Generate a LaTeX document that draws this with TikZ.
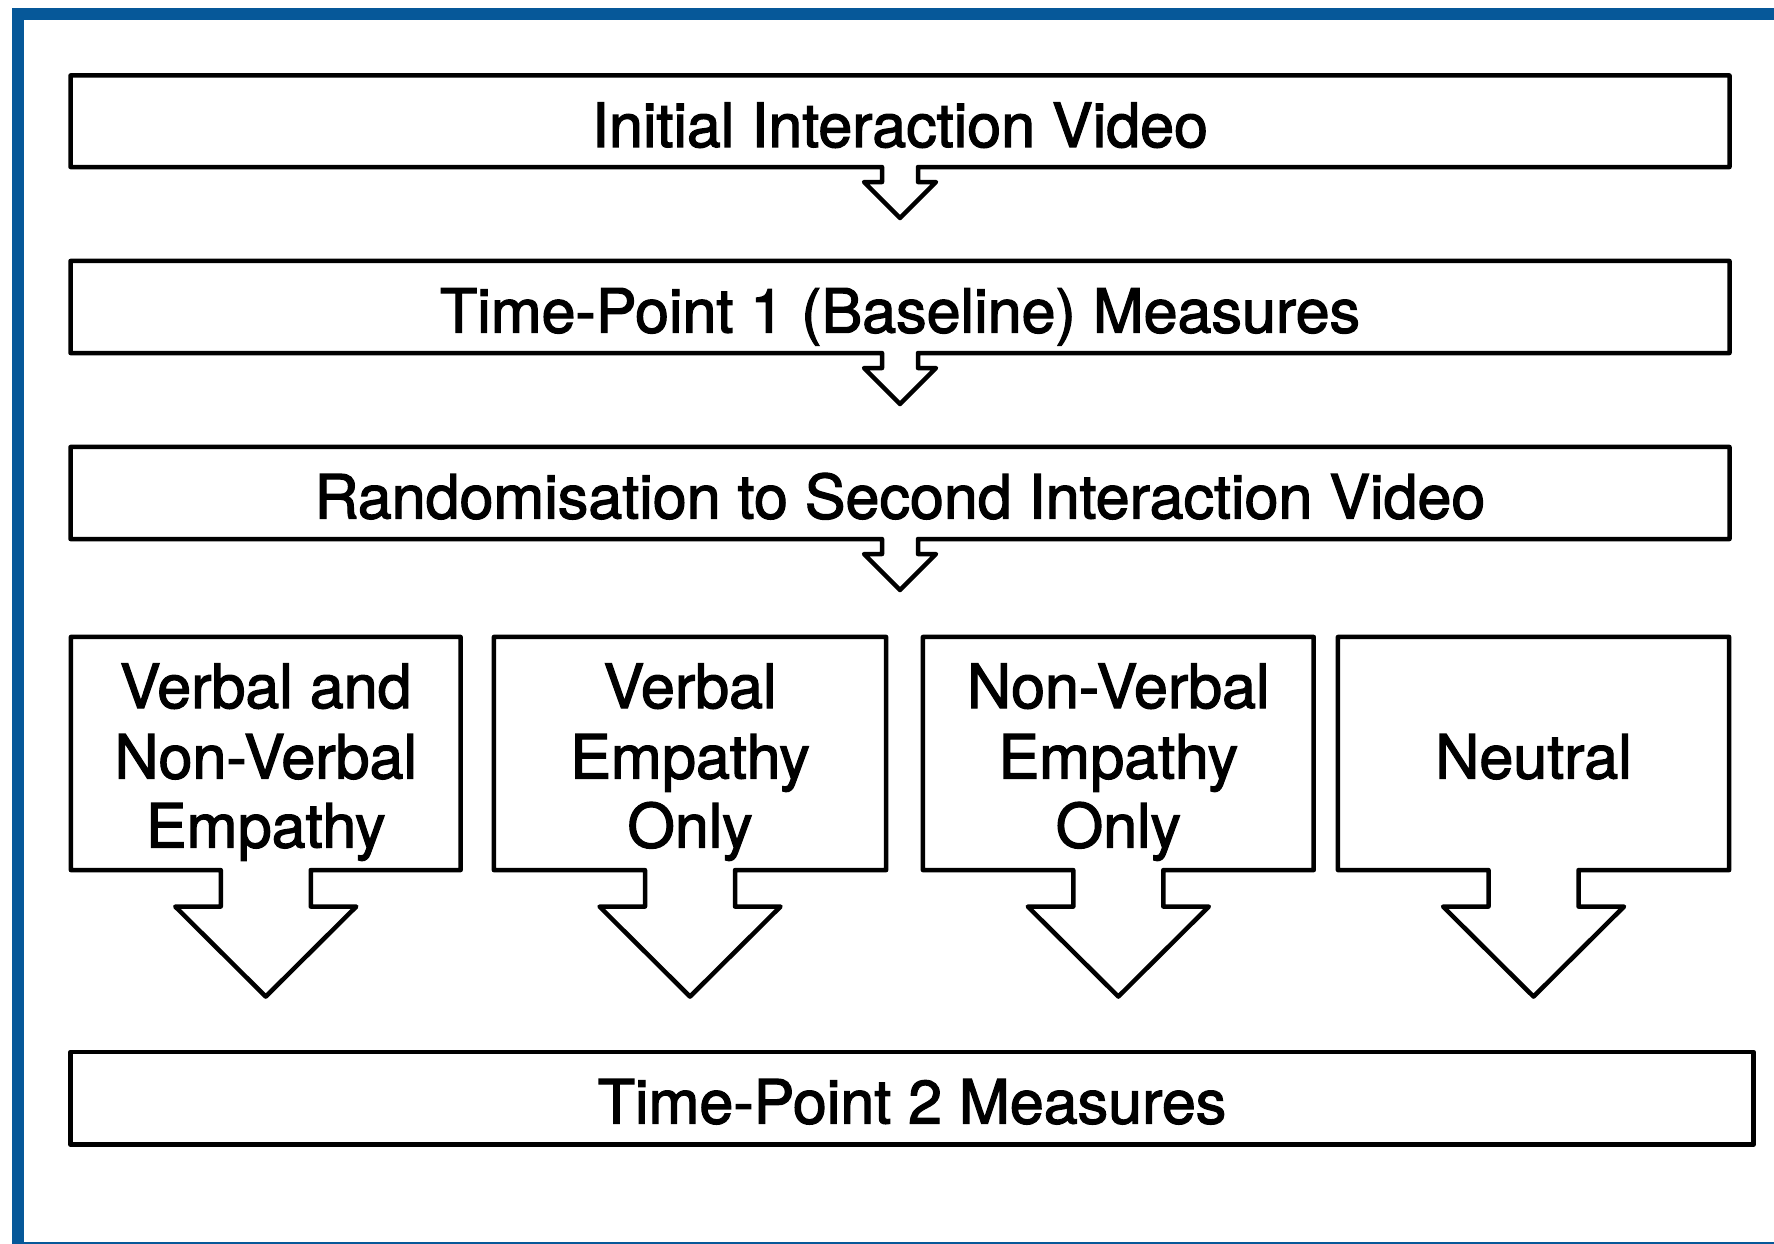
\documentclass[tikz,border=0pt]{standalone}
\usepackage{fontspec}
\setmainfont{TeX Gyre Heros}[BoldFont=TeX Gyre Heros, BoldFeatures={FakeBold=2}]
\usetikzlibrary{calc}
\definecolor{frameblue}{RGB}{6,88,153}
\tikzset{
  outline/.style={draw=black, line width=0.045cm, line join=round, fill=white},
  boxnode/.style={draw=none, inner sep=0pt, outer sep=0pt},
  txt/.style={anchor=base, inner sep=0pt, font=\fontsize{17.35pt}{19.9pt}\selectfont\bfseries},
}
\begin{document}
\begin{tikzpicture}[x=0.01cm, y=-0.01cm]
\useasboundingbox (0,0) rectangle (1774,1243);
\begin{scope}
\clip (0,0) rectangle (1774,1243);
\draw[frameblue, line width=0.12cm] (18.3,14.2) rectangle (1800,1248);
\end{scope}

% wide boxes
\node[boxnode, minimum width=16.58cm, minimum height=0.915cm] (b1) at (900,121.25) {};
\node[boxnode, minimum width=16.58cm, minimum height=0.92cm] (b2) at (900,307) {};
\node[boxnode, minimum width=16.58cm, minimum height=0.92cm] (b3) at (900,493) {};
\node[boxnode, minimum width=16.82cm, minimum height=0.925cm] (b5) at (912,1098.25) {};

% group boxes
\node[boxnode, minimum width=3.895cm, minimum height=2.33cm] (g1) at (265.75,753.5) {};
\node[boxnode, minimum width=3.92cm, minimum height=2.33cm] (g2) at (690,753.5) {};
\node[boxnode, minimum width=3.906cm, minimum height=2.33cm] (g3) at (1118.3,753.5) {};
\node[boxnode, minimum width=3.91cm, minimum height=2.33cm] (g4) at (1533.5,753.5) {};

% outlines with small arrows
\foreach \b in {b1,b2,b3}{
  \draw[outline] (\b.north west) -- (\b.north east) -- (\b.south east)
    -- ($(\b.south)+(18,0)$) -- ($(\b.south)+(18,15)$) -- ($(\b.south)+(36,15)$)
    -- ($(\b.south)+(0,51)$)
    -- ($(\b.south)+(-36,15)$) -- ($(\b.south)+(-18,15)$) -- ($(\b.south)+(-18,0)$)
    -- (\b.south west) -- cycle;
}
% outlines with big arrows
\foreach \g in {g1,g2,g3,g4}{
  \draw[outline] (\g.north west) -- (\g.north east) -- (\g.south east)
    -- ($(\g.south)+(45,0)$) -- ($(\g.south)+(45,36.5)$) -- ($(\g.south)+(90.5,36.5)$)
    -- ($(\g.south)+(0,126.5)$)
    -- ($(\g.south)+(-90.5,36.5)$) -- ($(\g.south)+(-45,36.5)$) -- ($(\g.south)+(-45,0)$)
    -- (\g.south west) -- cycle;
}
\draw[outline] (b5.north west) rectangle (b5.south east);

% texts
\node[txt] (t1) at (900,147) {Initial Interaction Video};
\node[txt] (t2) at (900,332.6) {Time-Point 1 (Baseline) Measures};
\node[txt] (t3) at (900,518.5) {Randomisation to Second Interaction Video};
\node[txt] (t5) at (912,1123.5) {Time-Point 2 Measures};

\node[txt] (g1a) at (265.75,708) {Verbal and};
\node[txt] (g1b) at (265.75,778.5) {Non-Verbal};
\node[txt] (g1c) at (265.75,847.5) {Empathy};

\node[txt] (g2a) at (690,708) {Verbal};
\node[txt] (g2b) at (690,778.5) {Empathy};
\node[txt] (g2c) at (690,847.5) {Only};

\node[txt] (g3a) at (1118.3,708) {Non-Verbal};
\node[txt] (g3b) at (1118.3,778.5) {Empathy};
\node[txt] (g3c) at (1118.3,847.5) {Only};

\node[txt] (g4a) at (1533.5,778.5) {Neutral};
\end{tikzpicture}
\end{document}
